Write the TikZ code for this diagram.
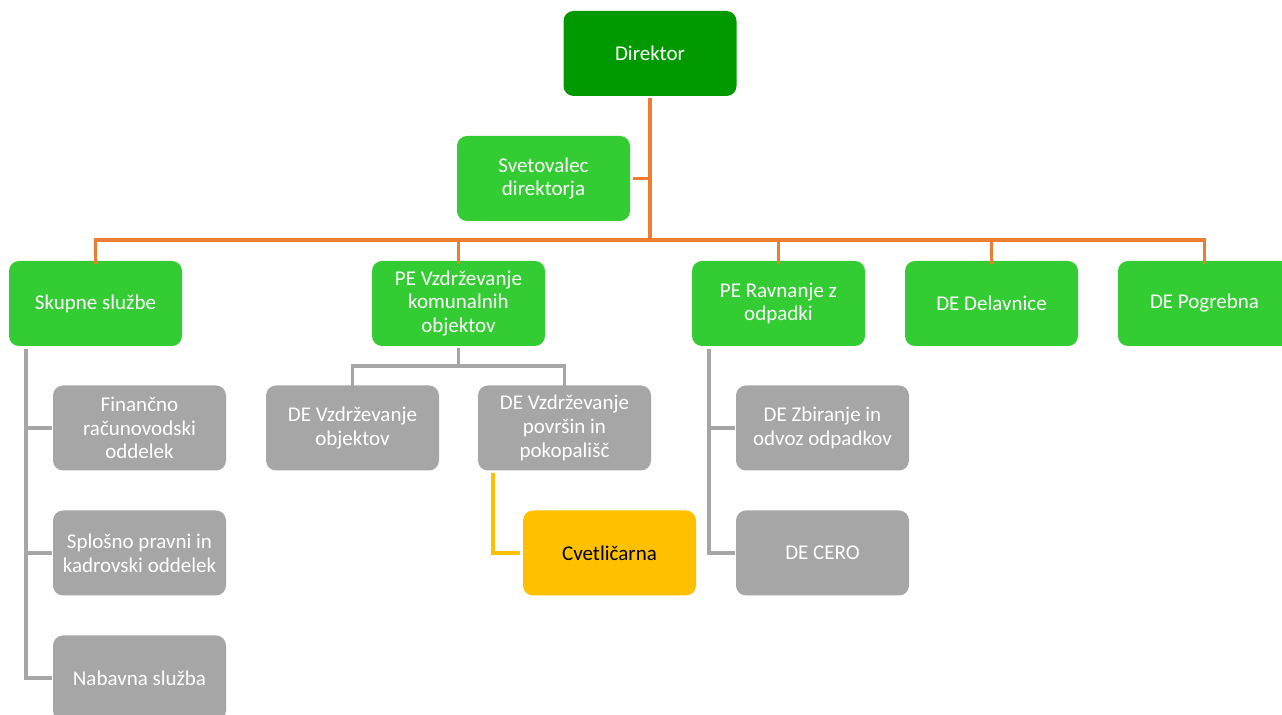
\documentclass[tikz,border=0pt]{standalone}
\usepackage{fontspec}
\setmainfont{Carlito}
\begin{document}
\begin{tikzpicture}[x=0.5pt,y=-0.5pt,
  box/.style={rounded corners=5pt, minimum width=86.5pt, minimum height=42.5pt,
    align=center, inner sep=2pt, text=white,
    font=\fontsize{10.5}{11.8}\selectfont},
  dark/.style={box, fill=darkg},
  light/.style={box, fill=lightg},
  grey/.style={box, fill=greybox},
  yel/.style={box, fill=yellowbox, text=black},
  oline/.style={draw=orangeline, line width=1.7pt},
  gline/.style={draw=greyline, line width=1.7pt},
  yline/.style={draw=yellowbox, line width=1.7pt}]
\definecolor{darkg}{HTML}{009900}
\definecolor{lightg}{HTML}{33CC33}
\definecolor{greybox}{HTML}{A6A6A6}
\definecolor{yellowbox}{HTML}{FFC000}
\definecolor{orangeline}{HTML}{ED7D31}
\definecolor{greyline}{HTML}{A6A6A6}
\clip (0,0) rectangle (1282,715);
\fill[white] (0,0) rectangle (1282,715);

\node[dark]  (dir)  at (650,53.5)   {Direktor};
\node[light] (svet) at (543.5,178.5) {Svetovalec\\direktorja};
\node[light] (skup) at (95.5,303.5)  {Skupne službe};
\node[light] (pev)  at (458.5,303.5) {PE Vzdrževanje\\komunalnih\\objektov};
\node[light] (pera) at (778.5,303.5) {PE Ravnanje z\\odpadki};
\node[light] (del)  at (991.5,303.5) {DE Delavnice};
\node[light] (pog)  at (1204.5,303.5) {DE Pogrebna};
\node[grey]  (fin)  at (139.5,428) {Finančno\\računovodski\\oddelek};
\node[grey]  (spl)  at (139.5,553) {Splošno pravni in\\kadrovski oddelek};
\node[grey]  (nab)  at (139.5,678) {Nabavna služba};
\node[grey]  (devo) at (352.5,428) {DE Vzdrževanje\\objektov};
\node[grey]  (devp) at (564.5,428) {DE Vzdrževanje\\površin in\\pokopališč};
\node[yel]   (cvet) at (609.5,553) {Cvetličarna};
\node[grey]  (dez)  at (822.5,428) {DE Zbiranje in\\odvoz odpadkov};
\node[grey]  (cero) at (822.5,553) {DE CERO};

\coordinate (bus) at (650,240);
\coordinate (skt) at (26,349);
\coordinate (pb)  at (458.5,366);
\coordinate (cv)  at (493,473);
\coordinate (ra)  at (709,349);

% orange
\draw[oline] ([yshift=-1pt]dir.south) -- (bus);
\draw[oline] ([xshift=1.5pt]svet.east) -- (svet.east -| bus);
\draw[oline] ([yshift=-1.5pt]skup.north) -- (skup.north |- bus) -- (pog.north |- bus) -- ([yshift=-1.5pt]pog.north);
\draw[oline] (pev.north |- bus) -- ([yshift=-1.5pt]pev.north);
\draw[oline] (pera.north |- bus) -- ([yshift=-1.5pt]pera.north);
\draw[oline] (del.north |- bus) -- ([yshift=-1.5pt]del.north);

% grey
\draw[gline] (skt) |- ([xshift=-0.5pt]nab.west);
\draw[gline] (skt |- fin.west) -- ([xshift=-0.5pt]fin.west);
\draw[gline] (skt |- spl.west) -- ([xshift=-0.5pt]spl.west);
\draw[gline] ([yshift=-1pt]pev.south) -- (pb);
\draw[gline] ([yshift=-1pt]devo.north) -- (devo.north |- pb) -- (devp.north |- pb) -- ([yshift=-1pt]devp.north);
\draw[gline] (ra) |- ([xshift=-0.5pt]cero.west);
\draw[gline] (ra |- dez.west) -- ([xshift=-0.5pt]dez.west);

% yellow
\draw[yline] (cv) |- ([xshift=-1.5pt]cvet.west);
\end{tikzpicture}
\end{document}
